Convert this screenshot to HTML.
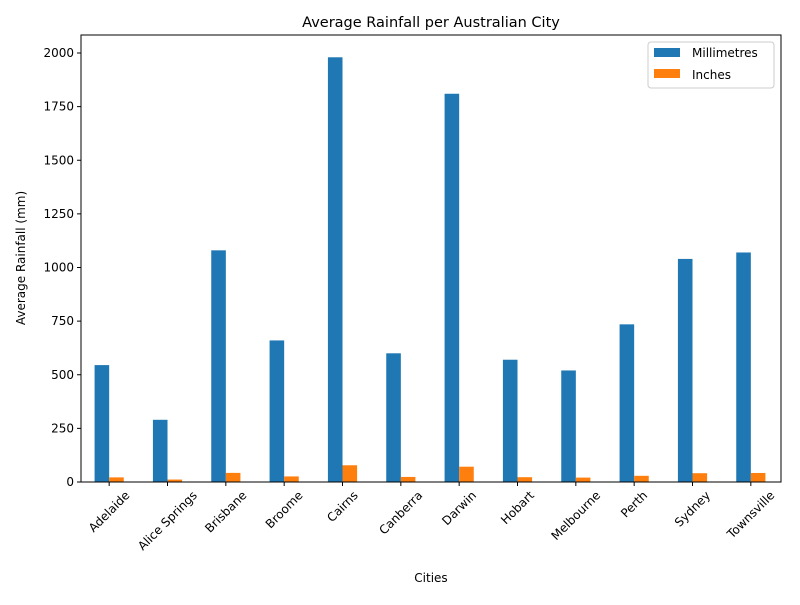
<!DOCTYPE html>
<html><head><meta charset="utf-8"><style>
body{margin:0;background:#fff;font-family:"Liberation Sans","DejaVu Sans",sans-serif;}
svg text{font-family:"DejaVu Sans","Liberation Sans",sans-serif;}
</style></head><body>
<svg id="chart" width="800" height="600" xmlns="http://www.w3.org/2000/svg">
<rect width="800" height="600" fill="#fff"/>
<text x="431" y="27" font-size="14.5" text-anchor="middle">Average Rainfall per Australian City</text>
<text x="431" y="582" font-size="12" text-anchor="middle">Cities</text>
<text transform="translate(25,258) rotate(-90)" font-size="12" text-anchor="middle">Average Rainfall (mm)</text>
<g id="bars"></g><g id="axes"></g>
<rect x="81" y="35" width="700" height="447" fill="none" stroke="#000" stroke-width="1"/>
<g>
<rect x="648" y="42" width="126" height="46" fill="#fff" stroke="#ccc" rx="3"/>
<rect x="654" y="48" width="26" height="9" fill="#1f77b4"/>
<text x="692" y="57" font-size="12">Millimetres</text>
<rect x="654" y="69" width="26" height="9" fill="#ff7f0e"/>
<text x="692" y="79" font-size="12">Inches</text>
</g>
</svg>
<script>
const categories=["Adelaide","Alice Springs","Brisbane","Broome","Cairns","Canberra","Darwin","Hobart","Melbourne","Perth","Sydney","Townsville"];
const millimetres=[545,290,1080,660,1980,600,1810,570,520,735,1040,1070];
const inches=[21.5,11.4,42.5,26,78,23.6,71.3,22.4,20.5,28.9,41,42.1];
const yTicks=[0,250,500,750,1000,1250,1500,1750,2000];
const NS="http://www.w3.org/2000/svg";
const L=81,R=781,B=482;
const y=v=>B-v*(429/2000);
const step=(R-L)/categories.length;
const x=i=>L+step*(i+0.5)-1;
const bw=step*0.25;
const bars=document.getElementById('bars'),axes=document.getElementById('axes');
function mk(t,a,p){const e=document.createElementNS(NS,t);for(const k in a)e.setAttribute(k,a[k]);p.appendChild(e);return e;}
categories.forEach((c,i)=>{
 let r=mk('rect',{x:x(i)-bw,y:y(millimetres[i]),width:bw,height:B-y(millimetres[i]),fill:'#1f77b4'},bars);
 
 
 let o=mk('rect',{x:x(i),y:y(inches[i]),width:bw,height:B-y(inches[i]),fill:'#ff7f0e'},bars);
 
 
 mk('line',{x1:x(i),x2:x(i),y1:B,y2:B+4,stroke:'#000'},axes);
 let t=mk('text',{'font-size':12,'text-anchor':'middle','dominant-baseline':'central'},axes);
 t.textContent=c;
 
 
 const w=t.getComputedTextLength();
 const half=(w*0.7071+12*0.7071)/2;
 t.setAttribute('transform',`translate(${x(i)},${B+7+half}) rotate(-45)`);
});
yTicks.forEach(v=>{
 mk('line',{x1:L-4,x2:L,y1:y(v),y2:y(v),stroke:'#000'},axes);
 let t=mk('text',{x:L-7,y:y(v)+4,'font-size':12,'text-anchor':'end'},axes);
 t.textContent=v;
 
 
});
</script>
</body></html>
